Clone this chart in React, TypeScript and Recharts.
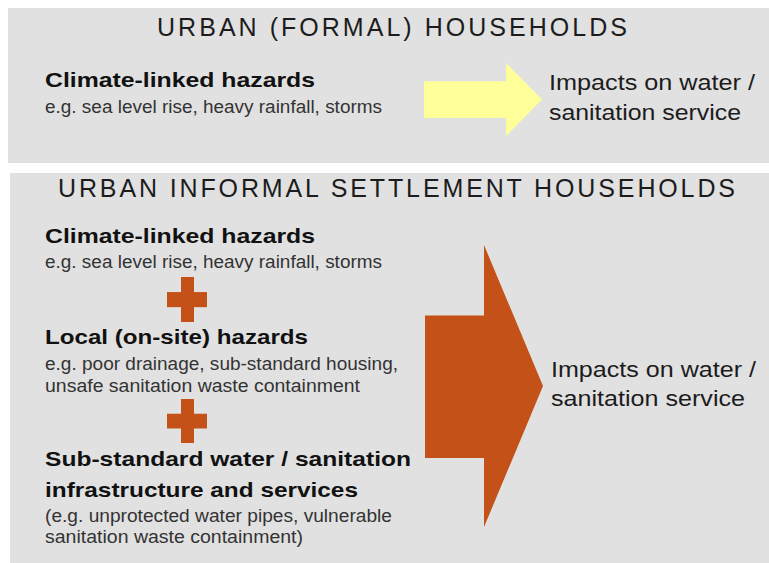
import React from "react";
import { ComposedChart, XAxis, YAxis, ReferenceArea, ReferenceDot } from "recharts";

// ---- content (text data) ----
const panelTitles = ["URBAN (FORMAL) HOUSEHOLDS", "URBAN INFORMAL SETTLEMENT HOUSEHOLDS"];
const formalHazardHeadings = [["Climate-linked hazards"]];
const formalHazardExamples = [["e.g. sea level rise, heavy rainfall, storms"]];
const informalHazardHeadings = [
  ["Climate-linked hazards"],
  ["Local (on-site) hazards"],
  ["Sub-standard water / sanitation", "infrastructure and services"],
];
const informalHazardExamples = [
  ["e.g. sea level rise, heavy rainfall, storms"],
  ["e.g. poor drainage, sub-standard housing,", "unsafe sanitation waste containment"],
  ["(e.g. unprotected water pipes, vulnerable", "sanitation waste containment)"],
];
const impactLines = ["Impacts on water /", "sanitation service"];

// ---- layout / style ----
const W = 769;
const H = 563;
const GREY = "#e1e1e1";
const ORANGE = "#c45117";
const YELLOW = "#ffff99";
const FONT = "'Liberation Sans', Arial, sans-serif";

const panels = [
  { x1: 8, x2: 769, y1: 8, y2: 163, titleY: 36, titleX: 157, titleW: 470 },
  { x1: 10, x2: 769, y1: 173, y2: 563, titleY: 197, titleX: 58, titleW: 677 },
];

// heading baselines & widths
const formalHeadLayout = [{ ys: [87], ws: [270] }];
const formalExLayout = [{ ys: [113], ws: [337] }];
const informalHeadLayout = [
  { ys: [243], ws: [270] },
  { ys: [344], ws: [263] },
  { ys: [466, 497], ws: [366, 313] },
];
const informalExLayout = [
  { ys: [268], ws: [337] },
  { ys: [370, 392], ws: [353, 315] },
  { ys: [522, 543], ws: [347, 258] },
];
const impactLayout = [
  { x: 549, ys: [90, 120], ws: [206, 192] },
  { x: 551, ys: [377, 406], ws: [205, 194] },
];

const arrows = [
  { x1: 424, x2: 542, y1: 63, y2: 136, head: 0.695, fill: YELLOW },
  { x1: 425, x2: 543, y1: 245, y2: 527, head: 0.5, fill: ORANGE },
];
const pluses = [
  { x1: 167, x2: 207, y1: 277, y2: 322 },
  { x1: 167, x2: 207, y1: 399, y2: 443 },
];

const TEXT_X = 45;

const ArrowShape = (head: number, fill: string) => (p: any) => {
  const { x, y, width, height } = p;
  const hx = x + width * head;
  const st = y + height * 0.25;
  const sb = y + height * 0.755;
  const pts = [
    [x, st], [hx, st], [hx, y], [x + width, y + height / 2], [hx, y + height], [hx, sb], [x, sb],
  ].map((q) => q.join(",")).join(" ");
  return <polygon points={pts} fill={fill} />;
};

const PlusShape = (p: any) => {
  const { x, y, width, height } = p;
  const vx1 = x + width * 0.35;
  const vx2 = x + width * 0.675;
  const hy1 = y + height * 0.335;
  const hy2 = y + height * 0.67;
  return (
    <g fill={ORANGE}>
      <rect x={vx1} y={y} width={vx2 - vx1} height={height} />
      <rect x={x} y={hy1} width={width} height={hy2 - hy1} />
    </g>
  );
};

const textShape = (
  str: string,
  len: number,
  size: number,
  weight: number,
  color: string,
  adjust: string = "spacingAndGlyphs"
) => (p: any) => (
  <text
    x={p.cx}
    y={p.cy}
    fontFamily={FONT}
    fontSize={size}
    fontWeight={weight}
    fill={color}
    textLength={len}
    lengthAdjust={adjust}
  >
    {str}
  </text>
);

export default function App() {
  const texts: any[] = [];
  panels.forEach((pn, i) => {
    texts.push({ x: pn.titleX, y: pn.titleY, s: panelTitles[i], w: pn.titleW, size: 25, weight: 400, color: "#1c1c1c", adj: "spacing" });
  });
  formalHazardHeadings.forEach((lines, i) =>
    lines.forEach((s, j) =>
      texts.push({ x: TEXT_X, y: formalHeadLayout[i].ys[j], s, w: formalHeadLayout[i].ws[j], size: 21, weight: 700, color: "#111" })
    )
  );
  formalHazardExamples.forEach((lines, i) =>
    lines.forEach((s, j) =>
      texts.push({ x: TEXT_X, y: formalExLayout[i].ys[j], s, w: formalExLayout[i].ws[j], size: 17.5, weight: 400, color: "#333" })
    )
  );
  informalHazardHeadings.forEach((lines, i) =>
    lines.forEach((s, j) =>
      texts.push({ x: TEXT_X, y: informalHeadLayout[i].ys[j], s, w: informalHeadLayout[i].ws[j], size: 21, weight: 700, color: "#111" })
    )
  );
  informalHazardExamples.forEach((lines, i) =>
    lines.forEach((s, j) =>
      texts.push({ x: TEXT_X, y: informalExLayout[i].ys[j], s, w: informalExLayout[i].ws[j], size: 17.5, weight: 400, color: "#333" })
    )
  );
  impactLayout.forEach((il) =>
    impactLines.forEach((s, j) =>
      texts.push({ x: il.x, y: il.ys[j], s, w: il.ws[j], size: 22.5, weight: 400, color: "#1c1c1c" })
    )
  );

  return (
    <div style={{ position: "absolute", left: 0, top: 0, background: "#fff" }}>
      <ComposedChart width={W} height={H} margin={{ top: 0, right: 0, bottom: 0, left: 0 }} data={[]}>
        <XAxis type="number" dataKey="x" domain={[0, W]} hide allowDataOverflow />
        <YAxis type="number" domain={[0, H]} reversed hide allowDataOverflow width={0} />
        {panels.map((pn, i) => (
          <ReferenceArea key={"p" + i} x1={pn.x1} x2={pn.x2} y1={pn.y1} y2={pn.y2} fill={GREY} fillOpacity={1} stroke="none" ifOverflow="visible" />
        ))}
        {arrows.map((a, i) => (
          <ReferenceArea key={"a" + i} x1={a.x1} x2={a.x2} y1={a.y1} y2={a.y2} ifOverflow="visible" shape={ArrowShape(a.head, a.fill)} />
        ))}
        {pluses.map((pl, i) => (
          <ReferenceArea key={"pl" + i} x1={pl.x1} x2={pl.x2} y1={pl.y1} y2={pl.y2} ifOverflow="visible" shape={PlusShape} />
        ))}
        {texts.map((t, i) => (
          <ReferenceDot
            key={"t" + i}
            x={t.x}
            y={t.y}
            r={0}
            ifOverflow="visible"
            shape={textShape(t.s, t.w, t.size, t.weight, t.color, t.adj)}
          />
        ))}
      </ComposedChart>
    </div>
  );
}
